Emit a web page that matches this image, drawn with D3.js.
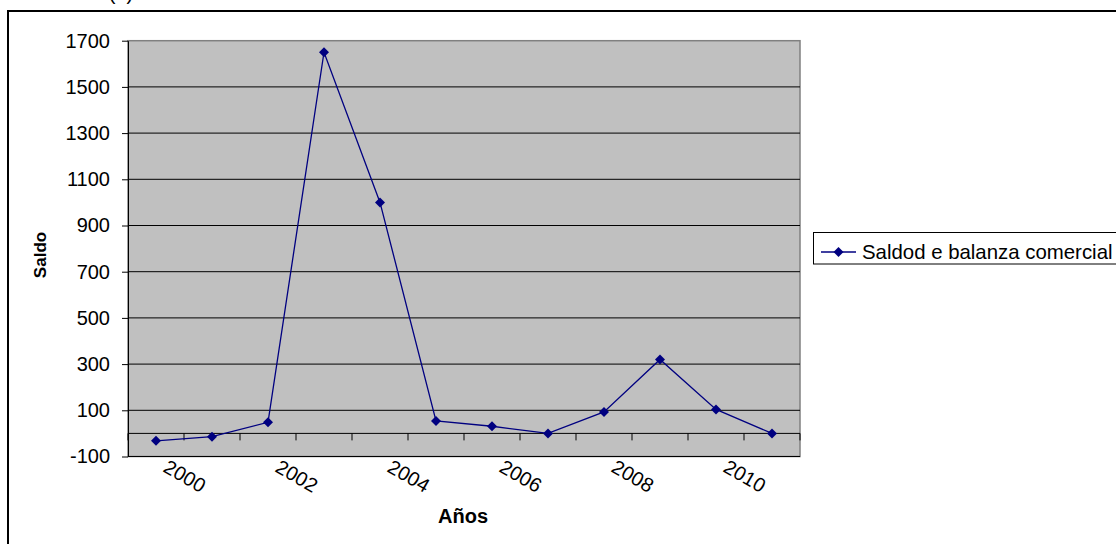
<!DOCTYPE html>
<html><head><meta charset="utf-8">
<script src="https://cdn.jsdelivr.net/npm/d3@7"></script>
<style>body{margin:0;background:#fff}svg{display:block;font-family:"Liberation Sans",Arial,sans-serif}</style>
</head><body><svg id="c" width="1116" height="544"></svg>
<script>
const years = ["2000","2001","2002","2003","2004","2005","2006","2007","2008","2009","2010","2011"];
const saldo = [-32,-14,48,1650,1000,54,31,0,93,320,104,0];
const yTicks = [-100,100,300,500,700,900,1100,1300,1500,1700];
const xLabelYears = ["2000","2002","2004","2006","2008","2010"];
const seriesName = "Saldod e balanza comercial";
const titleText = "(1)";
const xTitle = "Años";
const yTitle = "Saldo";

const svg = d3.select("#c");
const x = d3.scaleBand().domain(years).range([128,800]).padding(0);
const y = d3.scaleLinear().domain([-100,1700]).range([456.5,40.7]);
const bw = x.bandwidth();

// outer frame
svg.append("rect").attr("x",8).attr("y",11).attr("width",1300).attr("height",700)
  .attr("fill","none").attr("stroke","#000").attr("stroke-width",2);
svg.append("text").attr("x",121).attr("y",0).attr("text-anchor","middle")
  .attr("font-size",20).text(titleText);

// plot area
svg.append("rect").attr("x",128).attr("y",y(1700)).attr("width",672).attr("height",y(-100)-y(1700))
  .attr("fill","#C0C0C0").attr("stroke","#808080").attr("stroke-width",1.5);
svg.append("g").selectAll("line").data(yTicks.filter(t=>t<1700)).join("line")
  .attr("x1",128).attr("x2",800).attr("y1",d=>y(d)).attr("y2",d=>y(d))
  .attr("stroke","#000").attr("stroke-width",1);

// y axis
const ya = svg.append("g").attr("transform","translate(128,0)")
  .call(d3.axisLeft(y).tickValues(yTicks).tickSize(6).tickSizeOuter(0).tickPadding(12).tickFormat(d=>String(d)));
ya.select(".domain").attr("stroke","#000");
ya.selectAll(".tick line").attr("stroke","#000");
ya.selectAll("text").attr("font-size",20).attr("font-family","Liberation Sans, Arial").attr("fill","#000");

// x axis at zero
const y0 = y(0);
svg.append("line").attr("x1",128).attr("x2",800).attr("y1",y0).attr("y2",y0).attr("stroke","#000");
const bounds = years.map(d=>x(d)).concat([x.range()[1]]);
svg.append("g").selectAll("line").data(bounds).join("line")
  .attr("x1",d=>d).attr("x2",d=>d).attr("y1",y0).attr("y2",y0+7).attr("stroke","#000");
svg.append("g").selectAll("text").data(xLabelYears).join("text")
  .attr("transform",d=>`translate(${x(d)+bw/2+6},471) rotate(30)`)
  .attr("font-size",20).attr("text-anchor","start").text(d=>d);

// series
const pts = years.map((yr,i)=>({yr, v:saldo[i]}));
svg.append("path").datum(pts)
  .attr("d", d3.line().x(d=>x(d.yr)+bw/2).y(d=>y(d.v)))
  .attr("fill","none").attr("stroke","#000080").attr("stroke-width",1.3);
const diamond = "M0,-5L5,0L0,5L-5,0Z";
svg.append("g").selectAll("path").data(pts).join("path")
  .attr("transform",d=>`translate(${x(d.yr)+bw/2},${y(d.v)})`)
  .attr("d",diamond).attr("fill","#000080");

// axis titles
svg.append("text").attr("transform","translate(46,255) rotate(-90)").attr("text-anchor","middle")
  .attr("font-size",17).attr("font-weight","bold").text(yTitle);
svg.append("text").attr("x",463).attr("y",523).attr("text-anchor","middle")
  .attr("font-size",20).attr("font-weight","bold").text(xTitle);

// legend
const lg = svg.append("g");
lg.append("rect").attr("x",813.5).attr("y",232.5).attr("width",330).attr("height",31.5)
  .attr("fill","#fff").attr("stroke","#000");
lg.append("line").attr("x1",821).attr("x2",856).attr("y1",252).attr("y2",252)
  .attr("stroke","#000080").attr("stroke-width",1.3);
lg.append("path").attr("transform","translate(838.5,252)").attr("d",diamond).attr("fill","#000080");
lg.append("text").attr("x",862).attr("y",259).attr("font-size",20.4).text(seriesName);
</script></body></html>
